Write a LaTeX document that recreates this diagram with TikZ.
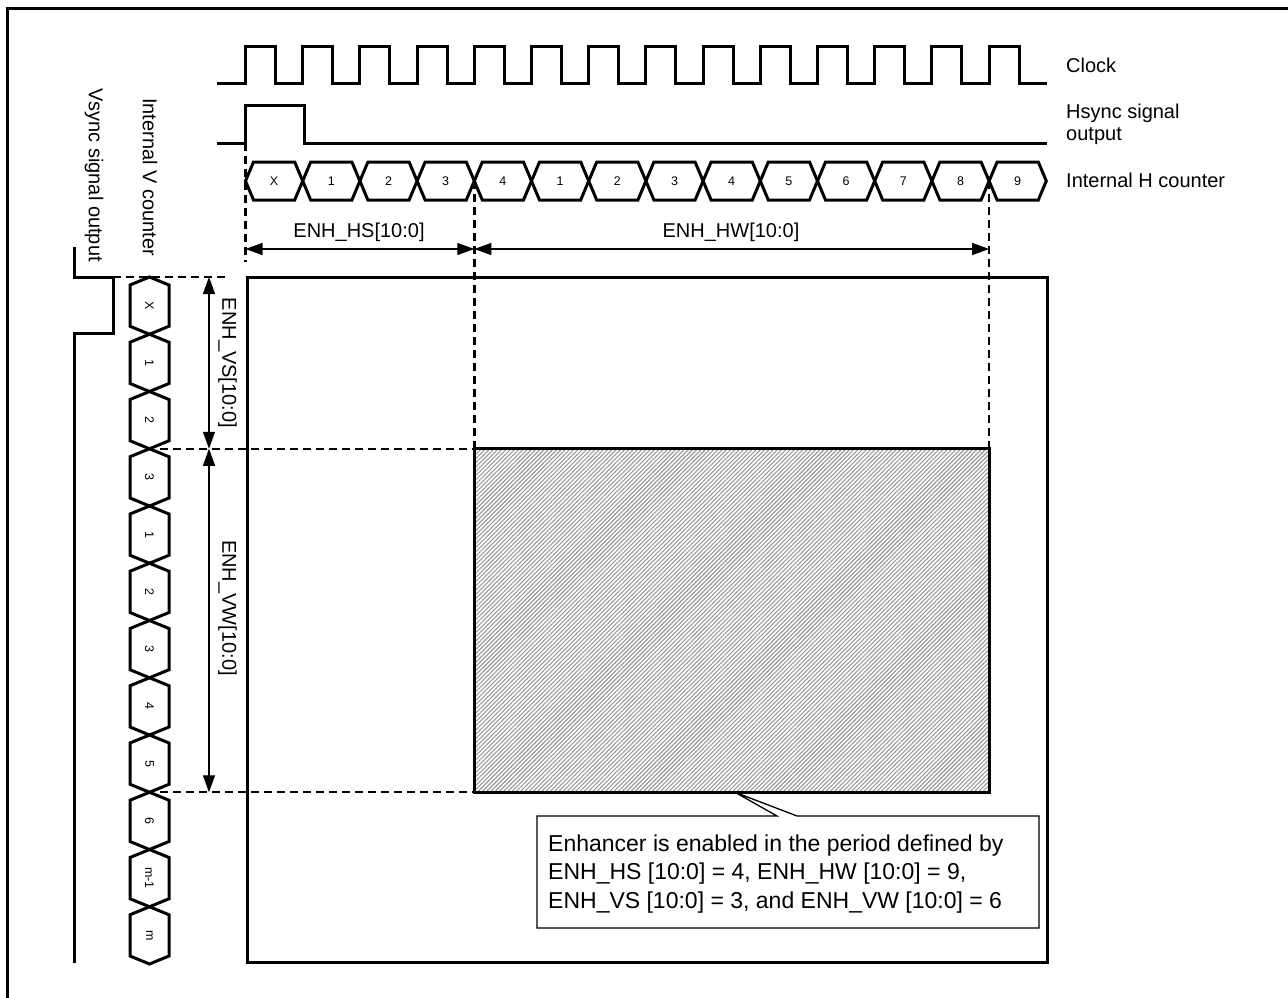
\documentclass[tikz,border=0pt]{standalone}
\usepackage{fontspec}
\setmainfont{Liberation Sans}
\usetikzlibrary{arrows.meta,patterns.meta}
\begin{document}
\begin{tikzpicture}[x=1pt,y=-1pt,
  sig/.style={line width=3pt,line join=miter},
  hexcell/.style={line width=3pt,line join=miter},
  dsh/.style={line width=2.4pt,dash pattern=on 8pt off 5pt},
  dim/.style={line width=1.3pt,{Triangle[length=17pt,width=12pt]}-{Triangle[length=17pt,width=12pt]}},
  lbl/.style={font=\fontsize{20}{22}\selectfont,inner sep=0pt},
  cnt/.style={font=\fontsize{12.5}{14}\selectfont,inner sep=0pt},
]
\useasboundingbox (0,0) rectangle (1288,998);
% frame
\draw[line width=3pt] (7,998) -- (7,9) -- (1288,9);

% key coordinates
\coordinate (h0) at (245.5,181);
\coordinate (h4) at (474.3,181);
\coordinate (h13) at (989.1,181);
\coordinate (v0) at (149.5,277);
\coordinate (v3) at (149.5,448.75);
\coordinate (v9) at (149.5,792.25);
\coordinate (sTL) at (474.3,448.75);
\coordinate (sTR) at (989.1,448.75);
\coordinate (sBL) at (474.3,792.25);
\coordinate (sBR) at (989.1,792.25);
\coordinate (tip) at (735,792.25);

% big screen rectangle
\draw[line width=3pt] (247,277) rectangle (1047,962);

% enhancer area
\fill[white] (sTL) rectangle (sBR);
\path[pattern={Lines[angle=45,distance=3pt,line width=1.1pt]},pattern color=gray!80] (sTL) rectangle (sBR);
\draw[line width=3pt] (sTL) rectangle (sBR);

% clock
\draw[sig] (217,84) foreach \k in {0,...,13}{ -- ({245.5+57.2*\k},84) -- ({245.5+57.2*\k},47) -- ({275.5+57.2*\k},47) -- ({275.5+57.2*\k},84)} -- (1047,84);

% hsync
\draw[sig] (217,143) -- (245.5,143) -- (245.5,105) -- (304,105) -- (304,143) -- (1047,143);

% H counter
\foreach \v [count=\i from 0] in {X,1,2,3,4,1,2,3,4,5,6,7,8,9}{
  \pgfmathsetmacro\xa{245.5+57.2*\i}
  \pgfmathsetmacro\xb{\xa+57.2}
  \draw[hexcell] (\xa,181) -- ({\xa+8},162) -- ({\xb-8},162) -- (\xb,181) -- ({\xb-8},200) -- ({\xa+8},200) -- cycle;
  \node[cnt] (hc\i) at ({(\xa+\xb)/2},181) {\v};
}

% V counter
\foreach \v [count=\i from 0] in {X,1,2,3,1,2,3,4,5,6,m-1,m}{
  \pgfmathsetmacro\ya{277+57.25*\i}
  \pgfmathsetmacro\yb{\ya+57.25}
  \draw[hexcell] (149.5,\ya) -- (169,{\ya+8}) -- (169,{\yb-8}) -- (149.5,\yb) -- (130,{\yb-8}) -- (130,{\ya+8}) -- cycle;
  \node[cnt,rotate=-90] (vc\i) at (149.5,{(\ya+\yb)/2}) {\v};
}

% vsync
\coordinate (vsA) at (74,247);
\coordinate (vsB) at (113,277);
\coordinate (vsC) at (74,963);
\draw[sig] (vsA) -- (74,277) -- (vsB) -- (113,333) -- (74,333) -- (vsC);

% dashed guides
\draw[dsh] (245.5,143) -- (245.5,262);
\draw[dsh] (h4) -- (sTL);
\draw[dsh] (h13) -- (sTR);
\draw[dsh] (vsB) -- (228,277);
\draw[dsh] (160,448.75) -- (sTL);
\draw[dsh] (160,792.25) -- (sBL);

% dimensions
\draw[dim] (245.5,249) -- (474.3,249);
\draw[dim] (474.3,249) -- (989.1,249);
\draw[dim] (209,277) -- (209,448.75);
\draw[dim] (209,448.75) -- (209,792.25);
\node[lbl,anchor=base] (hs) at (359,237) {ENH\_HS[10:0]};
\node[lbl,anchor=base] (hw) at (731,237) {ENH\_HW[10:0]};
\node[lbl,rotate=-90] (vs) at (227.5,363) {ENH\_VS[10:0]};
\node[lbl,rotate=-90] (vw) at (227.5,608) {ENH\_VW[10:0]};

% signal names
\node[lbl,anchor=base west] (clk) at (1066,73) {Clock};
\node[lbl,anchor=base west] (hsy1) at (1066,118) {Hsync signal};
\node[lbl,anchor=base west] (hsy2) at (1066,140) {output};
\node[lbl,anchor=base west] (hcn) at (1066,187) {Internal H counter};
\node[lbl,rotate=-90] (vsn) at (94,175) {Vsync signal output};
\node[lbl,rotate=-90] (vcn) at (150,177) {Internal V counter};

% callout
\draw[line width=1.3pt,fill=white,line join=miter] (537,816) -- (777,816) -- (tip) -- (797,816) -- (1039,816) -- (1039,928) -- (537,928) -- cycle;
\node[font=\fontsize{23}{28.5}\selectfont,inner sep=0pt,anchor=north west,align=left] (note) at (548,834.5)
  {Enhancer is enabled in the period defined by\\ENH\_HS [10:0] = 4, ENH\_HW [10:0] = 9,\\ENH\_VS [10:0] = 3, and ENH\_VW [10:0] = 6};
\end{tikzpicture}
\end{document}
